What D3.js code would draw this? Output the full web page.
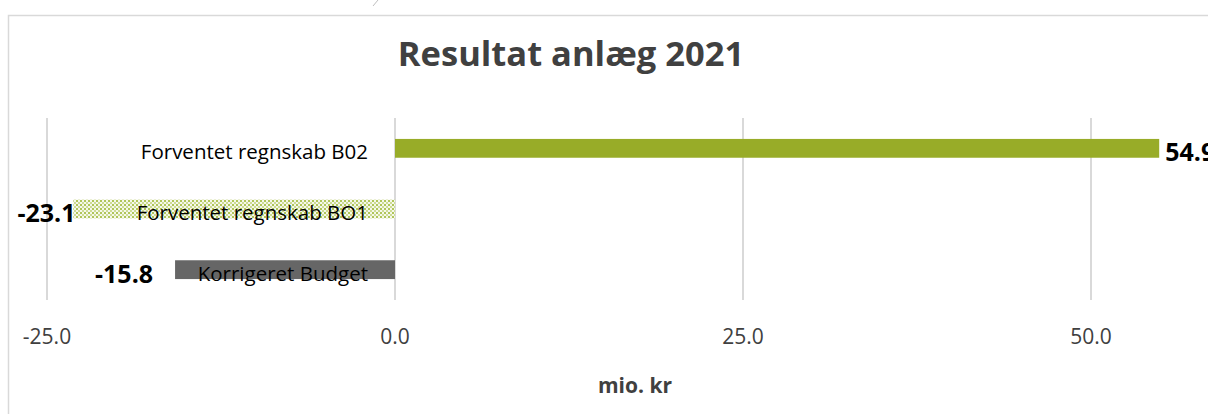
<!DOCTYPE html>
<html>
<head>
<meta charset="utf-8">
<script src="https://cdn.jsdelivr.net/npm/d3@7"></script>
<style>
  body { margin: 0; background: #fff; }
  svg { display: block; font-family: "Open Sans", sans-serif; }
</style>
</head>
<body>
<svg id="chart" width="1208" height="414"></svg>
<script>
// Chart data
const categories = ["Forventet regnskab B02", "Forventet regnskab BO1", "Korrigeret Budget"];
const values = [54.9, -23.1, -15.8];
const tickValues = [-25, 0, 25, 50];
const labelShift = [6, 2, -22]; // manual data label nudges, as in the original

const svg = d3.select("#chart");
// plain hyphen for negatives, like the source
const fmt = d3.formatLocale({ decimal: ".", thousands: ",", grouping: [3], currency: ["", ""], minus: "-" }).format(".1f");

// Outer chart border (chart is cropped on the right and bottom)
svg.append("rect")
    .attr("x", 8.5).attr("y", 15.5)
    .attr("width", 1300).attr("height", 500)
    .attr("fill", "none")
    .attr("stroke", "#d9d9d9")
    .attr("stroke-width", 1.5);

// little stray mark above the border
svg.append("line")
    .attr("x1", 378).attr("y1", 0).attr("x2", 373).attr("y2", 6)
    .attr("stroke", "#bfbfbf").attr("stroke-width", 1);

// Dotted fill for the BO1 bar
const defs = svg.append("defs");
const pat = defs.append("pattern")
    .attr("id", "dots")
    .attr("patternUnits", "userSpaceOnUse")
    .attr("width", 4).attr("height", 4);
pat.append("rect").attr("width", 4).attr("height", 4).attr("fill", "#f5f8ea");
pat.append("rect").attr("x", 0).attr("y", 0).attr("width", 2).attr("height", 2).attr("fill", "#b0c55a");
pat.append("rect").attr("x", 2).attr("y", 2).attr("width", 2).attr("height", 2).attr("fill", "#cddb94");

const fills = ["#98ac28", "url(#dots)", "#666666"];

// Scales
const x = d3.scaleLinear().domain([-25, 50]).range([47, 1091]);
const y = d3.scaleBand().domain(categories).range([118, 300]).paddingInner(0.69).paddingOuter(0.345);

// Gridlines
svg.append("g")
    .selectAll("line")
    .data(tickValues)
    .join("line")
    .attr("x1", d => x(d)).attr("x2", d => x(d))
    .attr("y1", 118).attr("y2", 300)
    .attr("stroke", "#d9d9d9")
    .attr("stroke-width", 2);

// Tick labels
svg.append("g")
    .selectAll("text")
    .data(tickValues)
    .join("text")
    .attr("x", d => x(d))
    .attr("y", 344)
    .attr("text-anchor", "middle")
    .attr("font-size", "21px")
    .attr("fill", "#404040")
    .text(d => fmt(d));

// Bars
const rows = categories.map((c, i) => ({ cat: c, value: values[i], i }));

svg.append("g")
    .selectAll("rect")
    .data(rows)
    .join("rect")
    .attr("x", d => x(Math.min(0, d.value)))
    .attr("y", d => y(d.cat))
    .attr("width", d => Math.abs(x(d.value) - x(0)))
    .attr("height", y.bandwidth())
    .attr("fill", d => fills[d.i]);

// Category labels next to the axis
svg.append("g")
    .selectAll("text")
    .data(rows)
    .join("text")
    .attr("x", x(0) - 27)
    .attr("y", d => y(d.cat) + y.bandwidth() / 2 + 11)
    .attr("text-anchor", "end")
    .attr("font-size", "20.5px")
    .attr("fill", "#000")
    .text(d => d.cat);

// Value labels
svg.append("g")
    .selectAll("text")
    .data(rows)
    .join("text")
    .attr("x", d => x(d.value) + labelShift[d.i])
    .attr("y", d => y(d.cat) + y.bandwidth() / 2 + 13)
    .attr("text-anchor", d => d.value < 0 ? "end" : "start")
    .attr("font-size", "25px")
    .attr("font-weight", "bold")
    .attr("fill", "#000")
    .text(d => fmt(d.value));

// Title
svg.append("text")
    .attr("x", 571)
    .attr("y", 66)
    .attr("text-anchor", "middle")
    .attr("font-size", "34.5px")
    .attr("font-weight", "bold")
    .attr("fill", "#404040")
    .text("Resultat anlæg 2021");

// Axis title
svg.append("text")
    .attr("x", 635)
    .attr("y", 393)
    .attr("text-anchor", "middle")
    .attr("font-size", "21px")
    .attr("font-weight", "bold")
    .attr("fill", "#404040")
    .text("mio. kr");
</script>
</body>
</html>
